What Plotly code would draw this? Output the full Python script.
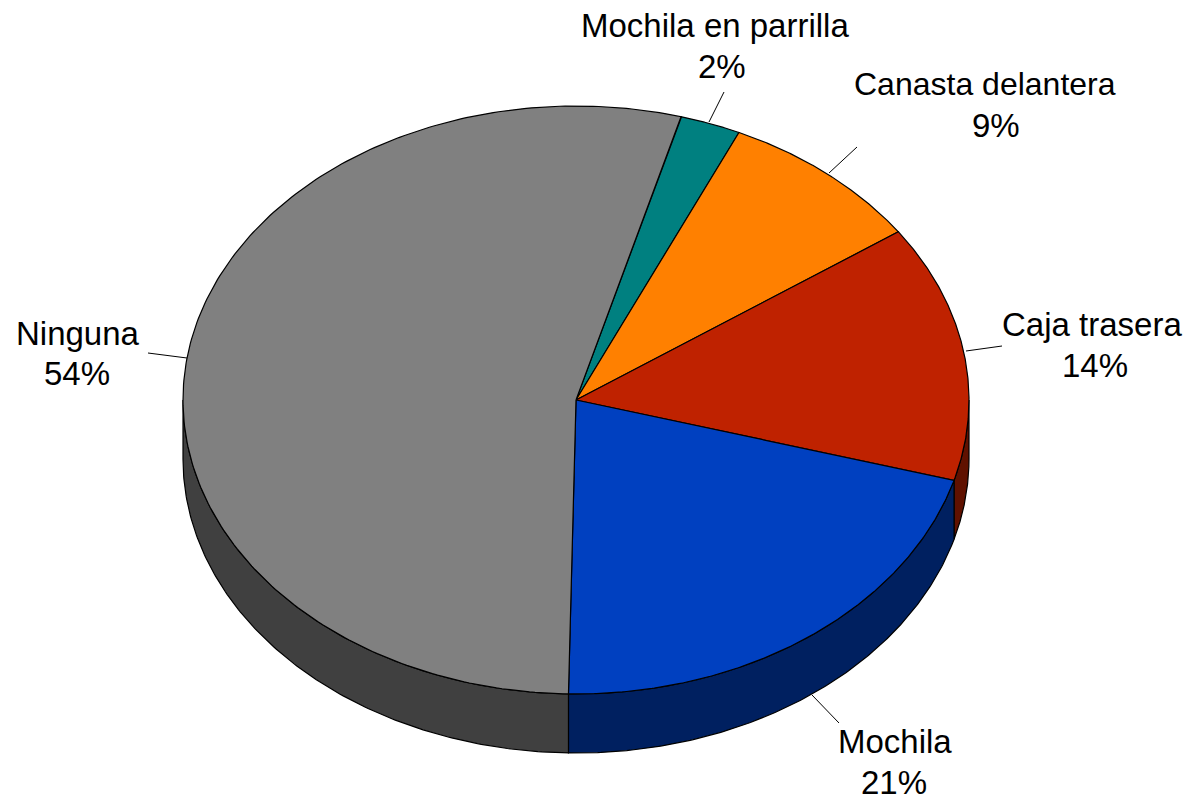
import numpy as np
import plotly.graph_objects as go

categories = ["Mochila en parrilla", "Canasta delantera", "Caja trasera", "Mochila", "Ninguna"]
values = [2.5, 8.5, 14.1, 20.9, 54.0]
percent_labels = ["2%", "9%", "14%", "21%", "54%"]
top_colors = ["#008080", "#FF8000", "#BF2200", "#0040C0", "#808080"]
side_colors = ["#004040", "#804000", "#601100", "#002060", "#404040"]

START_DEG = 15.5
CX, CY, RX, RY, DEPTH = 576, 400, 393, 294, 59
LINE = dict(color="#000000", width=1.2)
LEADER = dict(color="#000000", width=1)

# label line-centres: (name x, name y, percent x, percent y)
label_pos = [(715, 25, 722, 66), (985, 84, 996, 125), (1092, 324, 1095, 365),
             (895, 741, 894, 782), (78, 333, 77, 373)]
name_sizes = [33, 32, 33, 33, 33]
# leader lines: x0, y0, x1, y1
leaders = [(724, 92, 709, 122), (857, 147, 829, 173), (1002, 346, 966, 351),
           (812, 695, 839, 723), (148, 353, 187, 358)]


def ex(t):
    return CX + RX * np.sin(np.radians(t))


def ey(t, dy=0):
    return CY - RY * np.cos(np.radians(t)) + dy


edges = START_DEG + np.cumsum([0] + values) * 3.6
fig = go.Figure()

# rim sides: only the front half of the disc (90..270 deg) can be seen
for i, cat in enumerate(categories):
    a = max(edges[i], 90)
    b = min(edges[i + 1], 270)
    if b <= a:
        continue
    t = np.linspace(a, b, 160)
    xs = np.r_[ex(t), ex(t[::-1]), ex(t[0])]
    ys = np.r_[ey(t), ey(t[::-1], DEPTH), ey(t[0])]
    fig.add_trace(go.Scatter(x=xs, y=ys, mode="lines", fill="toself", fillcolor=side_colors[i],
                             line=LINE, hoverinfo="skip", showlegend=False))

# top faces
for i, cat in enumerate(categories):
    t = np.linspace(edges[i], edges[i + 1], 240)
    xs = np.r_[CX, ex(t), CX]
    ys = np.r_[CY, ey(t), CY]
    fig.add_trace(go.Scatter(x=xs, y=ys, mode="lines", fill="toself", fillcolor=top_colors[i],
                             line=LINE, name=cat, hoverinfo="name", showlegend=False))

# leaders and labels
for (x0, y0, x1, y1) in leaders:
    fig.add_shape(type="line", x0=x0, y0=y0, x1=x1, y1=y1, line=LEADER, layer="above")
for i, cat in enumerate(categories):
    nx, ny, px, py = label_pos[i]
    fig.add_annotation(x=nx, y=ny, text=cat, showarrow=False,
                       font=dict(family="Liberation Sans", size=name_sizes[i], color="#000000"),
                       xanchor="center", yanchor="middle")
    fig.add_annotation(x=px, y=py, text=percent_labels[i], showarrow=False,
                       font=dict(family="Liberation Sans", size=33, color="#000000"),
                       xanchor="center", yanchor="middle")

fig.update_layout(
    width=1188, height=800, margin=dict(l=0, r=0, t=0, b=0),
    paper_bgcolor="#ffffff", plot_bgcolor="#ffffff", showlegend=False,
    xaxis=dict(range=[0, 1188], visible=False, fixedrange=True),
    yaxis=dict(range=[800, 0], visible=False, fixedrange=True),
)
fig.write_html("out.html", config={"displayModeBar": False},
               post_script="document.body.style.margin='0';document.body.style.overflow='hidden';")
